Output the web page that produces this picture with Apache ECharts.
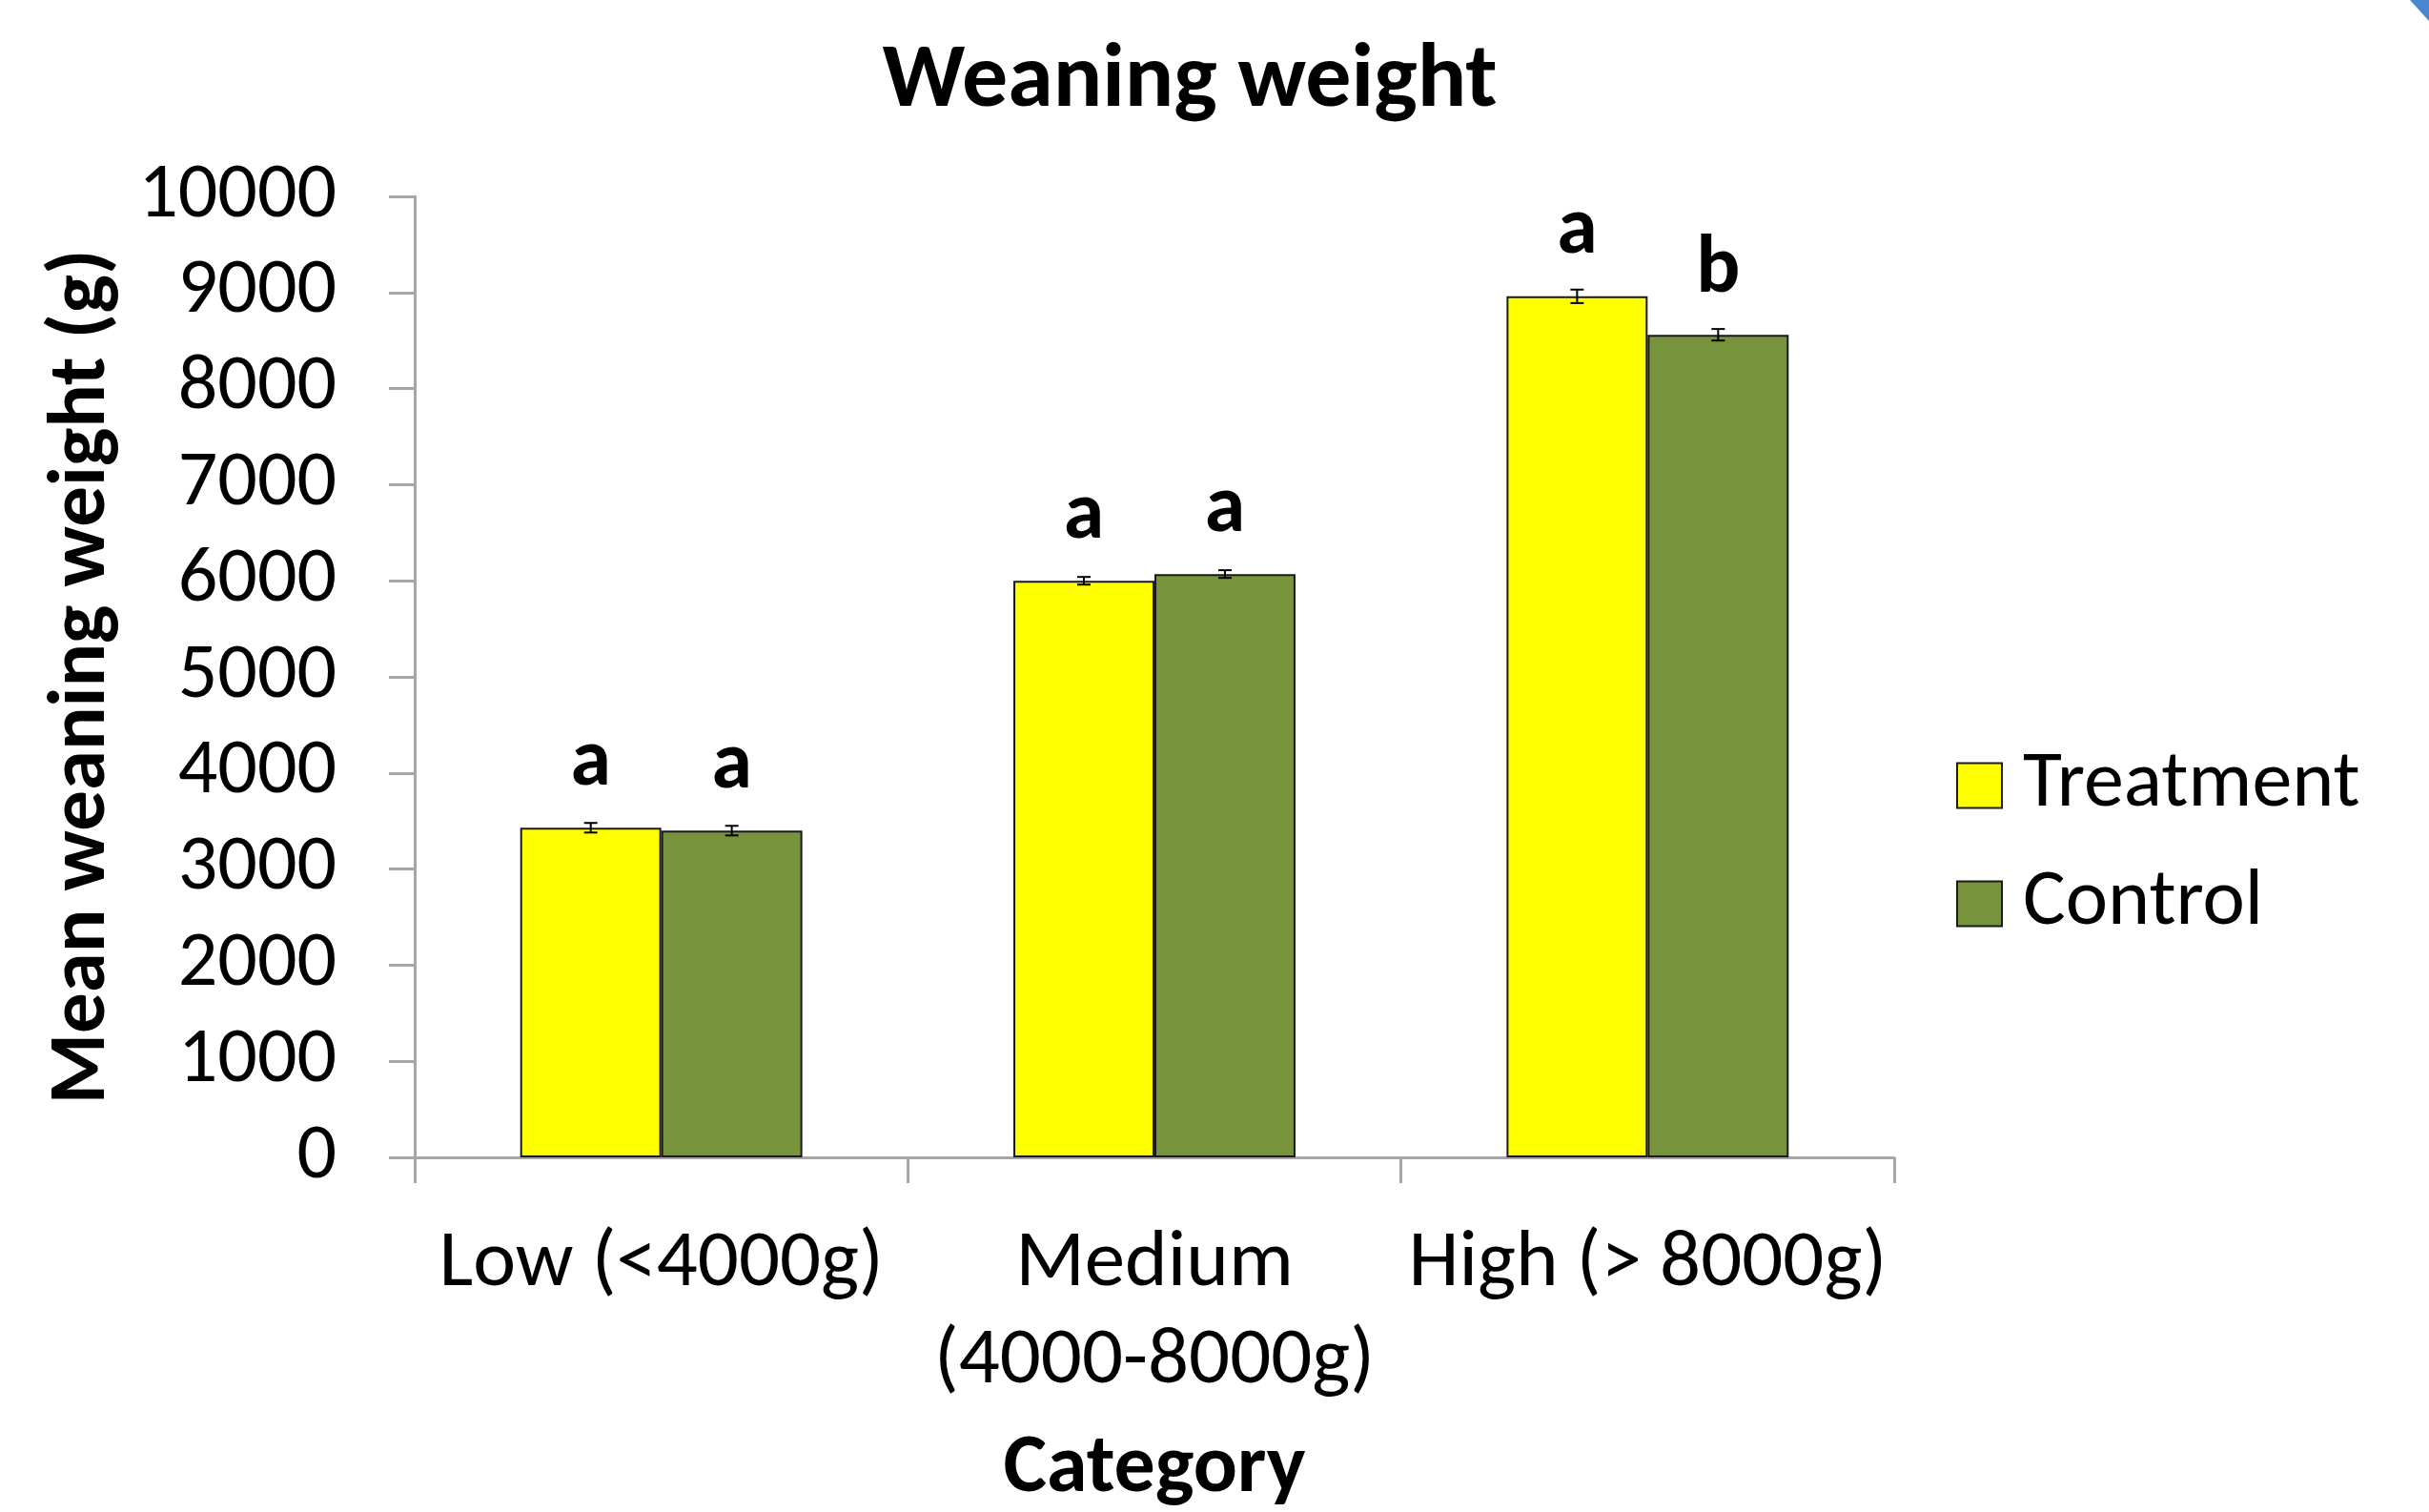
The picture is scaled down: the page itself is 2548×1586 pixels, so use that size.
<!DOCTYPE html>
<html>
<head>
<meta charset="utf-8">
<script src="https://cdn.jsdelivr.net/npm/echarts@6/dist/echarts.min.js"></script>
<style>
html,body{margin:0;padding:0;background:#fff;}
#chart{width:2548px;height:1586px;}
</style>
</head>
<body>
<div id="chart"></div>
<script>
const categories = ['Low (<4000g)', 'Medium\n(4000-8000g)', 'High (> 8000g)'];
const seriesNames = ['Treatment', 'Control'];
const treatment = [3430, 6000, 8960];
const control = [3400, 6070, 8560];
const treatmentErr = [50, 40, 70];
const controlErr = [50, 40, 60];
const treatmentLetters = ['a', 'a', 'a'];
const controlLetters = ['a', 'a', 'b'];
const yTicks = { min: 0, max: 10000, interval: 1000 };

const FONT = 'Carlito, Lato, sans-serif';
const BAR_FRAC = 0.286;

const chart = echarts.init(document.getElementById('chart'));

function errorSeries(name, values, errs, side) {
  return {
    type: 'custom',
    name: name + ' error',
    silent: true,
    z: 5,
    data: values.map((v, i) => [i, v, errs[i]]),
    renderItem: function (params, api) {
      const i = api.value(0);
      const v = api.value(1);
      const e = api.value(2);
      const band = api.size([1, 0])[0];
      const off = side * band * BAR_FRAC / 2;
      const hi = api.coord([i, v + e]);
      const lo = api.coord([i, v - e]);
      const x = hi[0] + off;
      const cap = 7;
      const st = { stroke: '#000', lineWidth: 2 };
      return {
        type: 'group',
        children: [
          { type: 'line', shape: { x1: x, y1: hi[1], x2: x, y2: lo[1] }, style: st },
          { type: 'line', shape: { x1: x - cap, y1: hi[1], x2: x + cap, y2: hi[1] }, style: st },
          { type: 'line', shape: { x1: x - cap, y1: lo[1], x2: x + cap, y2: lo[1] }, style: st }
        ]
      };
    }
  };
}

function barSeries(name, values, letters, color) {
  return {
    type: 'bar',
    name: name,
    data: values,
    barWidth: (BAR_FRAC * 100) + '%',
    barGap: '0%',
    itemStyle: { color: color, borderColor: '#1a1a1a', borderWidth: 2 },
    label: {
      show: true,
      position: 'top',
      distance: 24,
      formatter: p => letters[p.dataIndex],
      fontFamily: FONT,
      fontWeight: 'bold',
      fontSize: 86,
      color: '#000'
    }
  };
}

const option = {
  backgroundColor: '#fff',
  animation: false,
  title: {
    text: 'Weaning weight',
    left: 1248,
    textAlign: 'center',
    top: 39,
    padding: 0,
    textStyle: { fontFamily: FONT, fontWeight: 'bold', fontSize: 96, color: '#000' }
  },
  legend: {
    orient: 'vertical',
    left: 2047,
    top: 777,
    itemWidth: 47,
    itemHeight: 47,
    itemGap: 40,
    icon: 'rect',
    data: seriesNames,
    itemStyle: { borderColor: '#1a1a1a', borderWidth: 2 },
    textStyle: { fontFamily: FONT, fontSize: 84, color: '#000', padding: [0, 0, 0, 17] }
  },
  grid: { left: 435, right: 561, top: 206, bottom: 372, containLabel: false, outerBoundsMode: 'none' },
  xAxis: {
    type: 'category',
    data: categories,
    name: 'Category',
    nameLocation: 'middle',
    nameGap: 285,
    nameTextStyle: { fontFamily: FONT, fontWeight: 'bold', fontSize: 86, color: '#000' },
    axisLine: { show: true, lineStyle: { color: '#a6a6a6', width: 3 } },
    axisTick: { show: true, length: 27, lineStyle: { color: '#a6a6a6', width: 3 } },
    axisLabel: { fontFamily: FONT, fontSize: 85, color: '#000', margin: 62, lineHeight: 102, interval: 0 },
    splitLine: { show: false }
  },
  yAxis: {
    type: 'value',
    min: yTicks.min,
    max: yTicks.max,
    interval: yTicks.interval,
    name: 'Mean weaning weight (g)',
    nameLocation: 'middle',
    nameGap: 305,
    nameTextStyle: { fontFamily: FONT, fontWeight: 'bold', fontSize: 85, color: '#000' },
    axisLine: { show: true, lineStyle: { color: '#a6a6a6', width: 3 } },
    axisTick: { show: true, length: 27, lineStyle: { color: '#a6a6a6', width: 3 } },
    axisLabel: { fontFamily: FONT, fontSize: 82, color: '#000', margin: 82, formatter: v => String(v) },
    splitLine: { show: false }
  },
  series: [
    barSeries(seriesNames[0], treatment, treatmentLetters, '#ffff00'),
    barSeries(seriesNames[1], control, controlLetters, '#77933c'),
    errorSeries(seriesNames[0], treatment, treatmentErr, -1),
    errorSeries(seriesNames[1], control, controlErr, 1)
  ],
  graphic: [{
    type: 'polygon',
    silent: true,
    shape: { points: [[2528, 0], [2548, 0], [2548, 22]] },
    style: { fill: '#4a86d0' }
  }]
};

chart.setOption(option);
</script>
</body>
</html>
